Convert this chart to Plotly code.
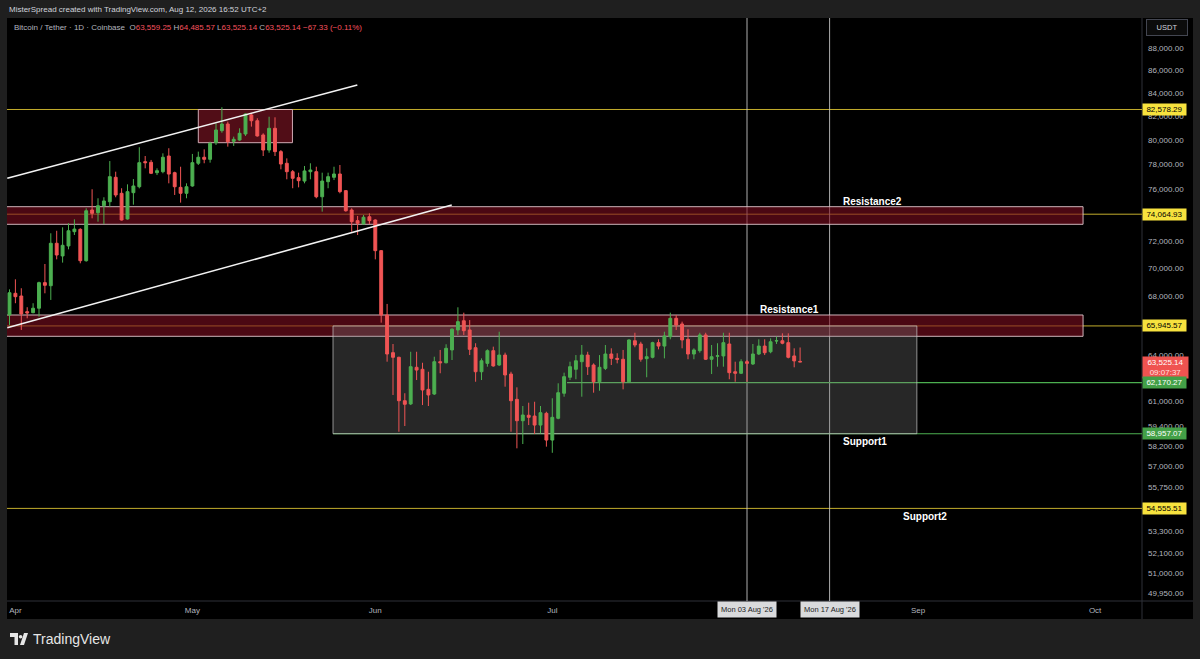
import math
import pandas as pd
import plotly.graph_objects as go

# ---------------- data ----------------
start_date = "2026-03-31"
open_ = [66700, 68220, 68030, 66930, 66860, 67170, 68980, 68760, 71860, 70920,
         71660, 72730, 72910, 70570, 74390, 74180, 74720, 75030, 76960, 75690,
         73700, 75740, 76210, 78220, 78170, 77330, 77410, 78680, 77330, 76160,
         75690, 76270, 78090, 78580, 78410, 79780, 80780, 81340, 79890, 80000,
         80500, 82110, 81620, 80420, 79170, 80980, 79040, 78090, 77410, 76930,
         76660, 77410, 77410, 75420, 76610, 76960, 77225, 75900, 74390, 73570,
         73310, 73870, 73620, 71310, 66700, 64140, 63830, 61015, 60810, 63170,
         63040, 61740, 61440, 63540, 63470, 64320, 65670, 66300, 65670, 64470,
         62880, 63430, 64270, 63320, 63980, 62730, 61100, 59760, 60100, 60050,
         59490, 60220, 58570, 59910, 61490, 62520, 63040, 63540, 63980, 63320,
         62230, 63100, 64050, 63760, 63700, 62230, 64940, 64720, 63740, 63830,
         64810, 64580, 65210, 66470, 66080, 65035, 64050, 64270, 65330, 63700,
         63900, 63920, 64720, 62880, 62780, 63540, 63390, 64050, 64580, 64200,
         64920, 64940, 64810, 63920, 63559.25]
high = [68500, 69220, 68580, 67240, 67520, 69050, 70330, 72610, 72800, 73060,
        73370, 73670, 72990, 74520, 76010, 75300, 75380, 78270, 77410, 76090,
        76400, 76820, 79400, 78680, 78360, 77680, 78900, 79320, 77410, 77810,
        76480, 78850, 79040, 79230, 79860, 81400, 82770, 81540, 80280, 80980,
        82250, 82250, 81830, 80560, 81960, 81910, 79170, 78490, 77545, 77330,
        77870, 78090, 77810, 77330, 77330, 77810, 77950, 75950, 74520, 73930,
        74000, 74130, 73670, 71360, 67470, 64720, 63870, 61490, 64200, 64200,
        63470, 62880, 63870, 64320, 64700, 65780, 67235, 66860, 66350, 64770,
        63760, 64360, 64540, 65550, 64140, 62880, 61870, 60680, 60890, 60950,
        60680, 60320, 61170, 62130, 62820, 63540, 63980, 64650, 64200, 63430,
        63980, 64650, 64430, 64100, 64320, 65035, 65480, 64870, 64430, 64870,
        65035, 65550, 66860, 66700, 66240, 65715, 64430, 65480, 65480, 64650,
        64770, 65480, 65480, 63540, 63700, 63650, 64720, 65035, 65035, 65100,
        65210, 65440, 65440, 64430, 64485.57]
low = [66010, 67520, 65670, 66470, 66820, 66580, 68220, 67750, 70670, 70430,
       71410, 72480, 70380, 70500, 73750, 73490, 73310, 74640, 75380, 73580,
       73650, 74800, 76080, 77680, 77220, 77140, 77280, 76480, 75560, 74960,
       75300, 76210, 77950, 78090, 78140, 79590, 80610, 79450, 79510, 79940,
       80340, 81120, 80280, 78680, 78950, 78680, 77600, 76800, 76090, 76160,
       76480, 76800, 75300, 74260, 76090, 76740, 75690, 74260, 72730, 72480,
       73310, 73310, 70670, 66170, 63540, 61380, 59080, 59430, 60740, 62340,
       60740, 60680, 61380, 62780, 63430, 63650, 65330, 65330, 63980, 62230,
       62340, 63210, 63210, 63260, 61910, 59080, 58070, 58330, 59490, 58940,
       58980, 58170, 57800, 59850, 61270, 62340, 62390, 61270, 62670, 61525,
       61650, 62990, 63320, 63430, 61740, 62200, 64500, 63540, 62520, 63760,
       64360, 63760, 65035, 65670, 64430, 63700, 63700, 64136, 63650, 62730,
       63210, 63210, 62390, 62230, 62730, 62230, 63320, 63980, 63980, 64100,
       64720, 64700, 63760, 63170, 63525.14]
close = [68260, 67980, 66770, 66840, 67170, 68980, 68790, 71860, 70990, 71710,
         72800, 72930, 70570, 74330, 74130, 74720, 75090, 77010, 75560, 73620,
         75820, 76270, 78140, 78140, 77280, 77490, 78580, 77220, 76210, 75690,
         76210, 78140, 78580, 78410, 79730, 80840, 81340, 79860, 80060, 80560,
         82190, 81620, 80340, 79170, 80980, 79040, 78030, 77410, 76880, 76690,
         77470, 77545, 75420, 76660, 77010, 77225, 75820, 74330, 73490, 73370,
         73830, 73570, 71310, 66700, 64050, 63830, 61015, 60790, 63210, 62990,
         61700, 61380, 63540, 63470, 64430, 65720, 66240, 65620, 64360, 62880,
         63600, 64270, 63260, 63980, 62670, 61015, 59760, 60115, 59970, 59490,
         60260, 58570, 59970, 61525, 62560, 63210, 63600, 63980, 63210, 62230,
         63170, 64050, 63760, 63700, 62230, 64990, 64650, 63700, 63870, 64810,
         64580, 65260, 66470, 66010, 64990, 64050, 64320, 65330, 63700, 63870,
         63930, 64810, 62820, 62780, 63540, 63430, 64050, 64580, 64136, 64870,
         64940, 64770, 63830, 63592.47, 63525.14]
dates = pd.date_range(start_date, periods=len(open_), freq="D")

yellow_levels = [82578.29, 74064.93, 65945.57, 54555.51]
green_levels = [62170.27, 58957.07]
green_level_start = ["2026-07-03 12:00", "2026-05-24 20:00"]

zone_low = [73291, 65238]
zone_high = [74645, 66700]
zone_start = "2026-03-01"
zone_end = "2026-09-28 23:00"

peak_box_x = ["2026-05-02 00:00", "2026-05-17 23:00"]
peak_box_y = [79778, 82578.29]
range_box_x = ["2026-05-24 20:00", "2026-08-31 19:00"]
range_box_y = [58957.07, 65945.57]

vline_dates = ["2026-08-03", "2026-08-17"]
vline_labels = ["Mon 03 Aug '26", "Mon 17 Aug '26"]

upper_trend_x = ["2026-03-30 15:00", "2026-05-28 23:00"]
upper_trend_y = [76880, 84707]
lower_trend_x = ["2026-03-30 15:00", "2026-06-13 23:00"]
lower_trend_y = [65826, 74776]

level_names = ["Resistance2", "Resistance1", "Support1", "Support2"]
countdown = "09:07:37"

y_ticks = [88000, 86000, 84000, 82000, 80000, 78000, 76000, 72000, 70000, 68000,
           64000, 61000, 59400, 58200, 57000, 55750, 53300, 52100, 51000, 49950]
month_ticks = ["2026-04-01", "2026-05-01", "2026-06-01", "2026-07-01",
               "2026-09-01", "2026-10-01"]
month_labels = ["Apr", "May", "Jun", "Jul", "Sep", "Oct"]

# ---------------- geometry helpers ----------------
W, H = 1200, 659
PL, PR, PT, PB = 7, 1142, 18, 601


def px(x):
    return (x - PL) / (PR - PL)


def py(y):
    return (PB - y) / (PB - PT)


UP = "#4caf50"
DN = "#f05454"
FONT = "Liberation Sans, Arial, sans-serif"
GREY = "#b2b5be"

fig = go.Figure()

fig.add_trace(go.Candlestick(
    x=dates, open=open_, high=high, low=low, close=close,
    increasing=dict(line=dict(color=UP, width=1), fillcolor=UP),
    decreasing=dict(line=dict(color=DN, width=1), fillcolor=DN),
    whiskerwidth=0, hoverinfo="skip", showlegend=False))

for tx, ty in [(upper_trend_x, upper_trend_y), (lower_trend_x, lower_trend_y)]:
    fig.add_trace(go.Scatter(x=tx, y=ty, mode="lines",
                             line=dict(color="#f2f2f2", width=1.6),
                             hoverinfo="skip", showlegend=False))

shapes = []
# black chart canvas
shapes.append(dict(type="rect", xref="paper", yref="paper", x0=0, x1=px(1193),
                   y0=py(619), y1=1, fillcolor="#000000", line=dict(width=0),
                   layer="below"))
# axis separators
shapes.append(dict(type="line", xref="paper", yref="paper", x0=0, x1=px(1193),
                   y0=0, y1=0, line=dict(color="#2f3138", width=1), layer="below"))
shapes.append(dict(type="line", xref="paper", yref="paper", x0=1, x1=1,
                   y0=py(619), y1=1, line=dict(color="#2f3138", width=1), layer="below"))
# yellow horizontal levels
for lv in yellow_levels:
    shapes.append(dict(type="line", xref="paper", yref="y", x0=0, x1=1, y0=lv, y1=lv,
                       line=dict(color="#c2ad2c", width=1), layer="below"))
# green horizontal levels
for lv, st in zip(green_levels, green_level_start):
    shapes.append(dict(type="line", xref="x", yref="y", x0=st, x1="2026-12-31",
                       y0=lv, y1=lv, line=dict(color="#4caf50", width=1.2), layer="below"))
# resistance zones
for lo, hi in zip(zone_low, zone_high):
    shapes.append(dict(type="rect", xref="x", yref="y", x0=zone_start, x1=zone_end,
                       y0=lo, y1=hi, fillcolor="rgba(125,14,32,0.6)",
                       line=dict(color="rgba(225,200,205,0.9)", width=1), layer="below"))
# peak box
shapes.append(dict(type="rect", xref="x", yref="y", x0=peak_box_x[0], x1=peak_box_x[1],
                   y0=peak_box_y[0], y1=peak_box_y[1], fillcolor="rgba(135,22,38,0.6)",
                   line=dict(color="rgba(225,190,198,0.9)", width=1), layer="below"))
# range box
shapes.append(dict(type="rect", xref="x", yref="y", x0=range_box_x[0], x1=range_box_x[1],
                   y0=range_box_y[0], y1=range_box_y[1], fillcolor="rgba(130,130,130,0.3)",
                   line=dict(color="rgba(200,200,200,0.7)", width=1), layer="below"))
# vertical lines
for d in vline_dates:
    shapes.append(dict(type="line", xref="x", yref="paper", x0=d, x1=d, y0=0, y1=1,
                       line=dict(color="rgba(205,205,205,0.85)", width=1), layer="below"))
# TradingView logo
shapes.append(dict(type="path", xref="paper", yref="paper",
                   path=f"M {px(10)},{py(633)} L {px(18)},{py(633)} L {px(18)},{py(645)} "
                        f"L {px(14.5)},{py(645)} L {px(14.5)},{py(637)} L {px(10)},{py(637)} Z",
                   fillcolor="#e6e6e6", line=dict(width=0)))
shapes.append(dict(type="circle", xref="paper", yref="paper",
                   x0=px(18.8), x1=px(22.4), y0=py(638.6), y1=py(635),
                   fillcolor="#e6e6e6", line=dict(width=0)))
shapes.append(dict(type="path", xref="paper", yref="paper",
                   path=f"M {px(24)},{py(633)} L {px(28)},{py(633)} L {px(24)},{py(645)} "
                        f"L {px(20)},{py(645)} Z",
                   fillcolor="#e6e6e6", line=dict(width=0)))

ann = []
# header
ann.append(dict(xref="paper", yref="paper", x=px(7), y=py(10), xanchor="left",
                yanchor="middle", showarrow=False,
                text="MisterSpread created with TradingView.com, Aug 12, 2026 16:52 UTC+2",
                font=dict(size=8, color="#d1d4dc", family=FONT)))
# legend line
chg = close[-1] - close[-2]
pct = chg / close[-2] * 100
red = "#f7525f"


def val(v):
    return f"<span style='color:{red}'>{v:,.2f}</span>"


legend_txt = ("Bitcoin / Tether · 1D · Coinbase  "
              f"O{val(open_[-1])} H{val(high[-1])} L{val(low[-1])} C{val(close[-1])} "
              f"<span style='color:{red}'>{chg:+,.2f} ({pct:+.2f}%)</span>").replace("-", "−")
ann.append(dict(xref="paper", yref="paper", x=px(12), y=py(27), xanchor="left",
                yanchor="middle", showarrow=False, text=legend_txt,
                font=dict(size=8, color=GREY, family=FONT)))

# level names
name_pos = [(872, 202), (789, 309), (865, 441), (925, 516)]
for nm, (x, y) in zip(level_names, name_pos):
    ann.append(dict(xref="paper", yref="paper", x=px(x), y=py(y), xanchor="center",
                    yanchor="middle", showarrow=False, text=f"<b>{nm}</b>",
                    font=dict(size=10, color="#ffffff", family=FONT)))

# price labels on axis
for lv in yellow_levels:
    ann.append(dict(xref="paper", yref="y", x=1, y=math.log10(lv), xanchor="left",
                    yanchor="middle", showarrow=False, text=f"{lv:,.2f}",
                    bgcolor="#f7e23e", width=43, height=11, borderpad=0,
                    font=dict(size=8, color="#000000", family=FONT)))
ann.append(dict(xref="paper", yref="y", x=1, y=math.log10(close[-1]), xanchor="left",
                yanchor="top", yshift=6, showarrow=False,
                text=f"{close[-1]:,.2f}<br><span style='color:#ffe0e0'>{countdown}</span>",
                bgcolor="#ef5350", width=43, borderpad=1,
                font=dict(size=8, color="#ffffff", family=FONT)))
for lv in green_levels:
    ann.append(dict(xref="paper", yref="y", x=1, y=math.log10(lv), xanchor="left",
                    yanchor="middle", showarrow=False, text=f"{lv:,.2f}",
                    bgcolor="#43a047", width=43, height=11, borderpad=0,
                    font=dict(size=8, color="#ffffff", family=FONT)))
# USDT box
ann.append(dict(xref="paper", yref="paper", x=px(1167), y=py(28), xanchor="center",
                yanchor="middle", showarrow=False, text="USDT", width=38, height=13,
                bgcolor="#0c0c0c", bordercolor="#434651", borderwidth=1,
                font=dict(size=7.5, color="#d1d4dc", family=FONT)))
# vertical line date labels
for d, lab in zip(vline_dates, vline_labels):
    ann.append(dict(xref="x", yref="paper", x=d, y=py(609.5), xanchor="center",
                    yanchor="middle", showarrow=False, text=lab,
                    bgcolor="#d9dadc", borderpad=3,
                    font=dict(size=7.5, color="#202020", family=FONT)))
# footer brand
ann.append(dict(xref="paper", yref="paper", x=px(31), y=py(639), xanchor="left",
                yanchor="middle", showarrow=False, text="TradingView",
                font=dict(size=14, color="#e6e6e6", family=FONT)))

y_lo = math.log10(88000) - (PB - 48.3) / 2215.8
y_hi = math.log10(88000) + (48.3 - PT) / 2215.8

fig.update_layout(
    width=W, height=H,
    margin=dict(l=PL, r=W - PR, t=PT, b=H - PB, pad=0, autoexpand=False),
    paper_bgcolor="#1f1f1f", plot_bgcolor="#000000",
    showlegend=False,
    font=dict(family=FONT, color=GREY, size=8),
    shapes=shapes, annotations=ann,
    xaxis=dict(type="date", range=["2026-03-30 13:50", "2026-10-08 22:48"],
               rangeslider=dict(visible=False), showgrid=False, zeroline=False,
               tickmode="array", tickvals=month_ticks, ticktext=month_labels,
               ticks="", showline=False, tickfont=dict(size=8, color=GREY, family=FONT),
               ticklabelstandoff=3, fixedrange=True),
    yaxis=dict(type="log", side="right", range=[y_lo, y_hi], showgrid=False,
               zeroline=False, tickmode="array", tickvals=y_ticks,
               ticktext=[f"{v:,.2f}" for v in y_ticks], ticks="", showline=False,
               tickfont=dict(size=8, color=GREY, family=FONT),
               ticklabelstandoff=5, fixedrange=True),
)

fig.write_html("out.html", config={"displayModeBar": False},
               post_script="document.body.style.margin='0';")
